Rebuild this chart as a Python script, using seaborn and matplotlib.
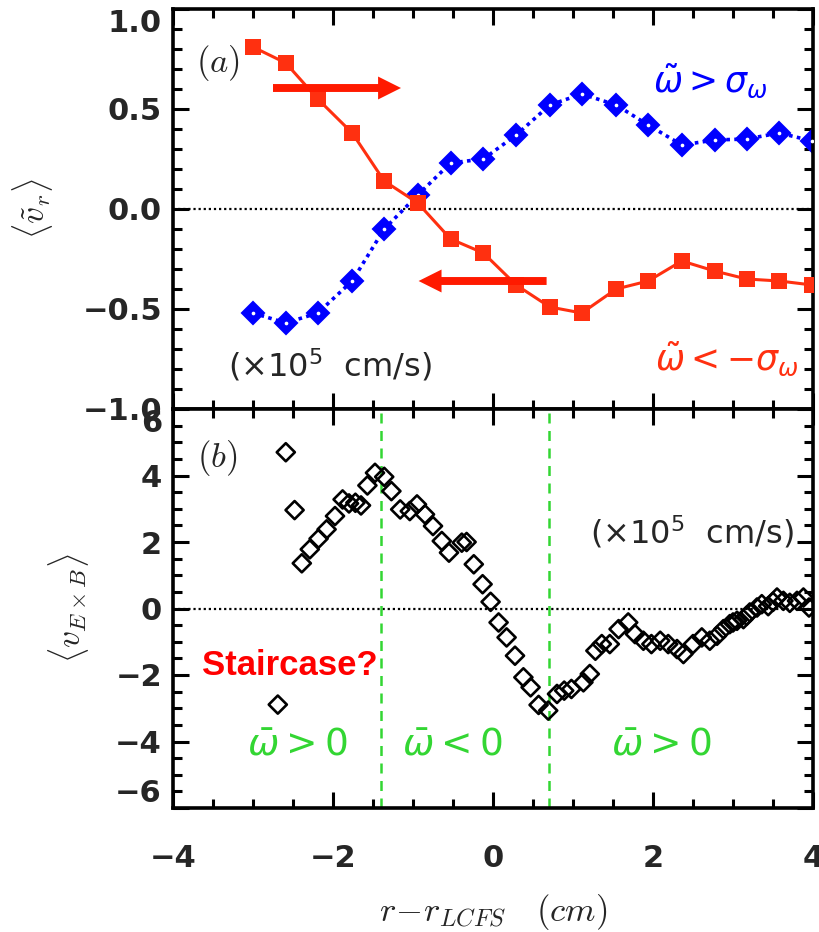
import numpy as np
import pandas as pd
import matplotlib
matplotlib.use("Agg")
import matplotlib.pyplot as plt
import seaborn as sns
from matplotlib.ticker import MultipleLocator

# ---------------- data ----------------
r_a = [-3.00, -2.59, -2.19, -1.76, -1.36, -0.94, -0.53, -0.12, 0.29,
       0.71, 1.11, 1.54, 1.94, 2.36, 2.77, 3.17, 3.58, 3.99]
vr_pos = [-0.52, -0.57, -0.52, -0.36, -0.10, 0.07, 0.23, 0.25, 0.37,
          0.52, 0.575, 0.52, 0.42, 0.32, 0.345, 0.35, 0.38, 0.34]
vr_neg = [0.81, 0.73, 0.55, 0.38, 0.14, 0.03, -0.15, -0.22, -0.38,
          -0.49, -0.52, -0.40, -0.36, -0.26, -0.31, -0.35, -0.36, -0.38]

r_b = [-2.69, -2.59, -2.48, -2.39, -2.29, -2.18, -2.08, -1.975, -1.88, -1.80,
       -1.72, -1.65, -1.57, -1.475, -1.36, -1.27, -1.16, -1.04, -0.95, -0.85,
       -0.75, -0.64, -0.55, -0.39, -0.33, -0.24, -0.13, -0.03, 0.07, 0.17,
       0.275, 0.38, 0.47, 0.57, 0.69, 0.80, 0.89, 0.98, 1.13, 1.21,
       1.28, 1.36, 1.46, 1.57, 1.69, 1.775, 1.88, 1.98, 2.09, 2.19,
       2.30, 2.38, 2.50, 2.61, 2.71, 2.80, 2.88, 2.96, 3.00, 3.05,
       3.13, 3.17, 3.21, 3.30, 3.36, 3.44, 3.50, 3.55, 3.63, 3.71,
       3.80, 3.88, 3.95]
v_exb = [-2.89, 4.70, 2.96, 1.36, 1.78, 2.10, 2.38, 2.78, 3.28, 3.16,
         3.18, 3.10, 3.70, 4.08, 3.96, 3.53, 2.98, 2.93, 3.13, 2.83,
         2.48, 2.03, 1.68, 1.98, 2.00, 1.33, 0.73, 0.20, -0.42, -0.87,
         -1.42, -2.07, -2.37, -2.90, -3.07, -2.57, -2.47, -2.42, -2.22, -1.97,
         -1.27, -1.07, -1.07, -0.62, -0.42, -0.77, -0.97, -1.07, -0.97, -1.07,
         -1.22, -1.37, -1.07, -0.87, -0.97, -0.82, -0.62, -0.47, -0.42, -0.37,
         -0.32, -0.22, -0.12, 0.03, 0.13, 0.07, 0.20, 0.33, 0.23, 0.17,
         0.23, 0.33, 0.03]

region_bounds = [-1.4, 0.7]
region_labels = [r"$\bar{\omega}>\mathit{0}$", r"$\bar{\omega}<\mathit{0}$", r"$\bar{\omega}>\mathit{0}$"]
region_label_x = [-2.44, -0.51, 2.10]

xticks = [-4, -2, 0, 2, 4]
xticklabels = ["\u22124", "\u22122", "0", "2", "4"]
yticks_a = [-1.0, -0.5, 0.0, 0.5, 1.0]
yticklabels_a = ["\u22121.0", "\u22120.5", "0.0", "0.5", "1.0"]
yticks_b = [-6, -4, -2, 0, 2, 4, 6]
yticklabels_b = ["\u22126", "\u22124", "\u22122", "0", "2", "4", "6"]

RED = "#ff3010"
ARROW_RED = "#ff1a00"
BLUE = "#0000ff"
GREEN = "#33d633"

# ---------------- style ----------------
sns.set_style("ticks")
plt.rcParams["font.family"] = ["DejaVu Sans"]
plt.rcParams["mathtext.fontset"] = "cm"

W, H = 819, 932
fig = plt.figure(figsize=(W / 100, H / 100), dpi=100)
ax1 = fig.add_axes([173 / W, (H - 409) / H, 640 / W, 400 / H])
ax2 = fig.add_axes([173 / W, (H - 808) / H, 640 / W, 399 / H])

df_a = pd.DataFrame({"r": r_a, "pos": vr_pos, "neg": vr_neg})
df_b = pd.DataFrame({"r": r_b, "v": v_exb})

# ---------------- panel (a) ----------------
ax1.axhline(0, color="black", lw=1.6, ls=(0, (1, 1.3)), zorder=1)
sns.lineplot(data=df_a, x="r", y="pos", ax=ax1, color=BLUE, lw=2.6,
             linestyle=(0, (1, 1.2)), marker="D", markersize=11,
             markerfacecolor=BLUE, markeredgecolor=BLUE, markeredgewidth=1.5,
             estimator=None, sort=False, zorder=2.5)
sns.scatterplot(data=df_a, x="r", y="pos", ax=ax1, marker="o", s=7,
                color="white", linewidth=0, zorder=2.6)
sns.lineplot(data=df_a, x="r", y="neg", ax=ax1, color=RED, lw=2.2,
             marker="s", markersize=11.5, markeredgewidth=0,
             estimator=None, sort=False, zorder=3)

arrow_style = "simple,head_length=0.55,head_width=0.55,tail_width=0.19"
ax1.annotate("", xy=(-1.15, 0.605), xytext=(-2.75, 0.605),
             arrowprops=dict(arrowstyle=arrow_style, color=ARROW_RED,
                             mutation_scale=30, shrinkA=0, shrinkB=0, lw=0),
             zorder=4)
ax1.annotate("", xy=(-0.93, -0.36), xytext=(0.67, -0.36),
             arrowprops=dict(arrowstyle=arrow_style, color=ARROW_RED,
                             mutation_scale=30, shrinkA=0, shrinkB=0, lw=0),
             zorder=4)

ax1.text(-3.44, 0.73, r"$(a)$", fontsize=25, ha="center", va="center")
ax1.text(2.72, 0.64, r"$\tilde{\omega}>\sigma_{\omega}$", color=BLUE,
         fontsize=25, ha="center", va="center", math_fontfamily="dejavusans")
ax1.text(2.93, -0.75, r"$\tilde{\omega}<-\sigma_{\omega}$", color=RED,
         fontsize=25, ha="center", va="center", math_fontfamily="dejavusans")
ax1.text(-2.04, -0.78, r"($\times$10$^5$  cm/s)", fontsize=23,
         ha="center", va="center", math_fontfamily="dejavusans")

# ---------------- panel (b) ----------------
ax2.axhline(0, color="black", lw=1.6, ls=(0, (1, 1.3)), zorder=1)
for xb in region_bounds:
    ax2.axvline(xb, color=GREEN, lw=1.8, ls=(0, (4, 3)), zorder=1.5)
sns.scatterplot(data=df_b, x="r", y="v", ax=ax2, marker="D", s=85,
                facecolor="none", edgecolor="black", linewidth=1.9, zorder=3)

ax2.text(-3.45, 4.54, r"$(b)$", fontsize=25, ha="center", va="center")
ax2.text(2.49, 2.29, r"($\times$10$^5$  cm/s)", fontsize=23,
         ha="center", va="center", math_fontfamily="dejavusans")
ax2.text(-2.54, -1.70, "Staircase?", color="#ff0000", fontsize=25,
         fontweight="bold", family=["Liberation Sans", "DejaVu Sans"],
         ha="center", va="center")
for lx, lab in zip(region_label_x, region_labels):
    ax2.text(lx, -4.10, lab, color=GREEN, fontsize=27, ha="center",
             va="center", math_fontfamily="dejavusans")

# ---------------- axes ----------------
for ax in (ax1, ax2):
    ax.set_xlim(-4, 4)
    ax.set_xticks(xticks, xticklabels, fontsize=22, fontweight="bold")
    ax.xaxis.set_minor_locator(MultipleLocator(0.5))
    ax.tick_params(which="both", direction="in", top=True, right=True,
                   width=2.2, color="black")
    ax.tick_params(which="major", length=11.5)
    ax.tick_params(which="minor", length=6.5)
    ax.tick_params(axis="y", pad=8)
    ax.tick_params(axis="x", pad=26)
    for s in ax.spines.values():
        s.set_linewidth(2.6)
        s.set_color("black")

ax1.set_ylim(-1, 1)
ax1.set_yticks(yticks_a, yticklabels_a, fontsize=22, fontweight="bold")
ax1.yaxis.set_minor_locator(MultipleLocator(0.1))
ax1.tick_params(labelbottom=False)
ax1.set_xlabel("")
ax1.get_yticklabels()[-1].set_va("top")

ax2.set_ylim(-6, 6)
ax2.set_yticks(yticks_b, yticklabels_b, fontsize=22, fontweight="bold")
ax2.yaxis.set_minor_locator(MultipleLocator(0.5))
ax2.get_yticklabels()[-1].set_va("top")
ax2.get_yticklabels()[0].set_va("bottom")

ax1.set_ylabel(r"$\langle\tilde{v}_r\rangle$", fontsize=24)
ax1.yaxis.set_label_coords(-0.219, 0.5)
ax1.yaxis.label.set_va("center")
ax2.set_ylabel(r"$\langle v_{E\times B}\rangle$", fontsize=24)
ax2.yaxis.set_label_coords(-0.164, 0.5)
ax2.yaxis.label.set_va("center")

ax2.set_xlabel(r"$r\!-\!r_{LCFS}\ \ \ (cm)$", fontsize=25)
ax2.xaxis.set_label_coords(0.5, (808 - 912) / 399)
ax2.xaxis.label.set_va("center")

fig.savefig("out.png", dpi=100)
